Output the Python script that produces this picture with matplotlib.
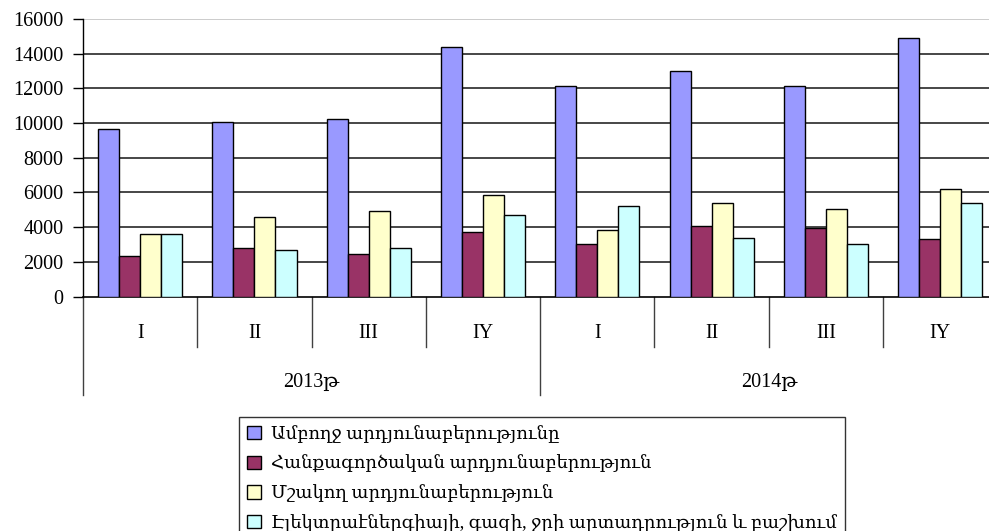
import matplotlib
matplotlib.use("Agg")
import matplotlib.pyplot as plt
import numpy as np

plt.rcParams['font.family'] = ['Liberation Serif', 'DejaVu Serif', 'DejaVu Sans']

years = ["2013թ", "2014թ"]
quarters = ["I", "II", "III", "IY"]
series_names = [
    "Ամբողջ արդյունաբերությունը",
    "Հանքագործական արդյունաբերություն",
    "Մշակող արդյունաբերություն",
    "Էլեկտրաէներգիայի, գազի, ջրի արտադրություն և բաշխում",
]
total = [9660, 10090, 10220, 14380, 12130, 13000, 12130, 14920]
mining = [2350, 2790, 2440, 3740, 3000, 4060, 3950, 3330]
manufacturing = [3620, 4580, 4930, 5870, 3850, 5370, 5030, 6200]
energy = [3620, 2680, 2790, 4700, 5240, 3390, 3000, 5370]
colors = ["#9999FF", "#993366", "#FFFFCC", "#CCFFFF"]

W, H = 989, 531
fig = plt.figure(figsize=(W / 100, H / 100), dpi=100)
left, right, top, bottom = 83, 997.4, 19, 296.5
ax = fig.add_axes([left / W, 1 - bottom / H, (right - left) / W, (bottom - top) / H])

n = len(total)
x = np.arange(n)
bw = 0.184
data = [total, mining, manufacturing, energy]
for i, (vals, c, name) in enumerate(zip(data, colors, series_names)):
    ax.bar(x + (i - 1.5) * bw, vals, width=bw, color=c, edgecolor="black",
           linewidth=1.0, label=name, zorder=3)

ax.set_xlim(-0.5, n - 0.5)
ax.set_ylim(0, 16000)
ax.set_yticks(np.arange(0, 16001, 2000))
ax.tick_params(axis='y', labelsize=14.5, length=7, width=1, direction='out', pad=7)
ax.set_xticks([])
for s in ["top", "right"]:
    ax.spines[s].set_visible(False)
ax.spines["left"].set_linewidth(1)
ax.spines["bottom"].set_linewidth(1.2)

for yv in np.arange(2000, 16001, 2000):
    col = "#c8c8c8" if yv == 16000 else "#383838"
    ax.axhline(yv, color=col, linewidth=1.3, zorder=1)

# multi-level category axis
tr = ax.get_xaxis_transform()
h_px = bottom - top
q_end = -(347 - bottom) / h_px
y_end = -(395 - bottom) / h_px
q_lab = -(333 - bottom) / h_px
y_lab = -(382 - bottom) / h_px
for k in range(n + 1):
    xb = k - 0.5
    yend = y_end if k % 4 == 0 else q_end
    ax.plot([xb, xb], [0, yend], transform=tr, color="#404040", linewidth=1.0,
            clip_on=False)
for k in range(n):
    ax.text(k, q_lab, quarters[k % 4], transform=tr, ha='center', va='center',
            fontsize=14.5)
for j, yr in enumerate(years):
    ax.text(j * 4 + 1.5, y_lab, yr, transform=tr, ha='center', va='center',
            fontsize=14.5)

leg = fig.legend(loc='upper left', bbox_to_anchor=(239 / W, 1 - 417 / H),
                 frameon=True, fancybox=False, edgecolor='black', fontsize=13,
                 handlelength=0.75, handleheight=0.75, handletextpad=0.55,
                 labelspacing=0.65, borderpad=0.45, borderaxespad=0)
leg.get_frame().set_linewidth(1.0)

fig.savefig("out.png", dpi=100)
